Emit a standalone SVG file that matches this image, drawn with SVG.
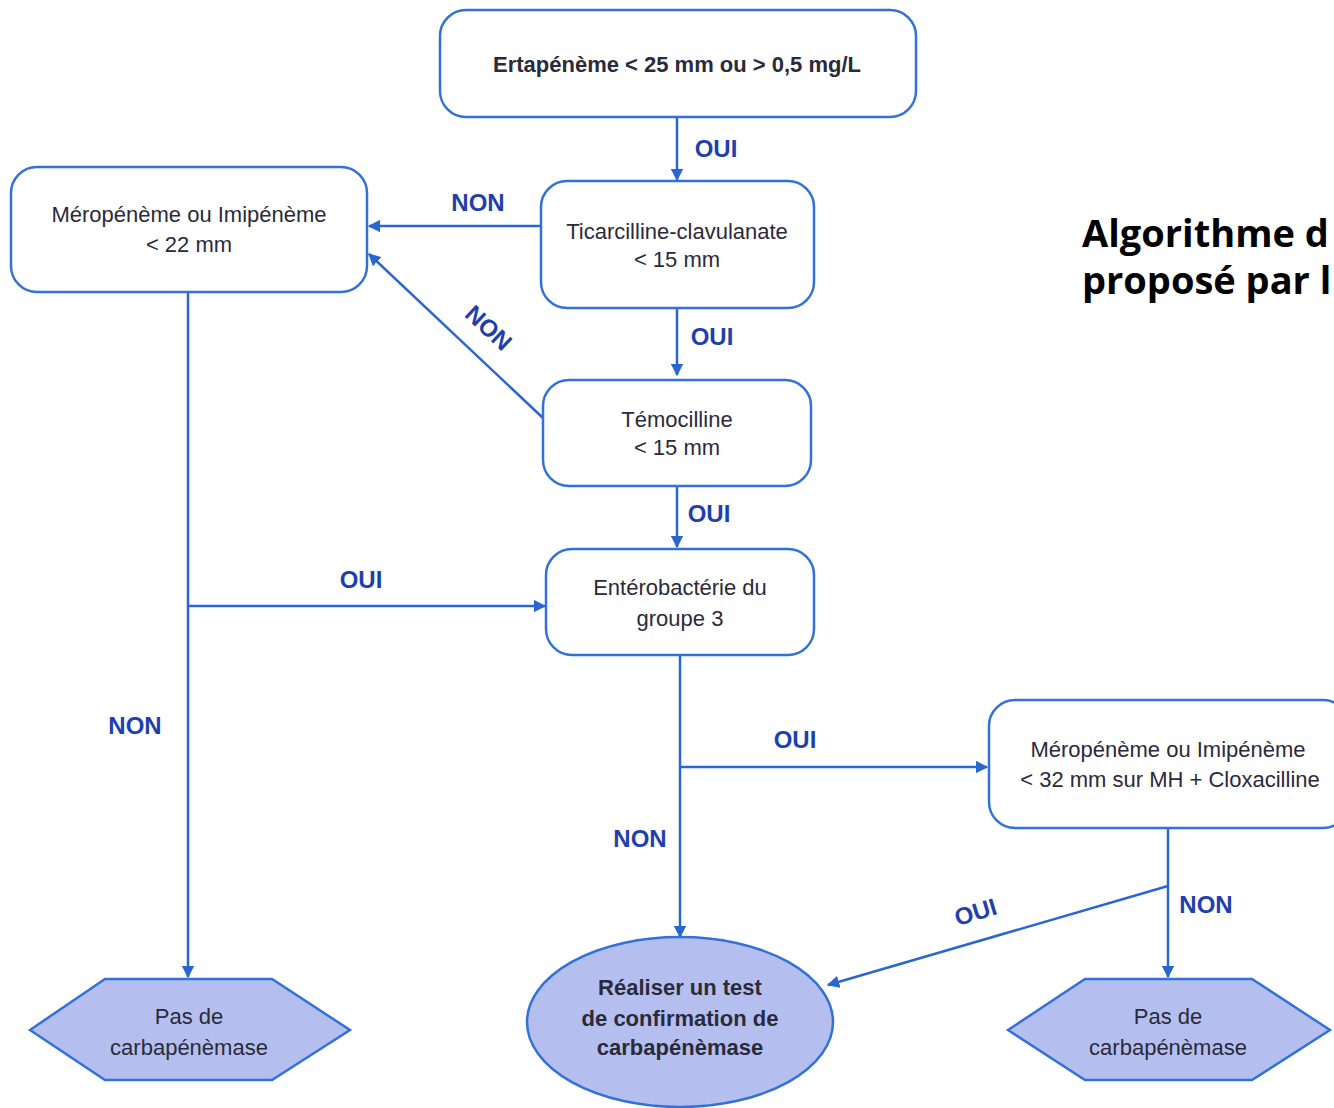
<svg xmlns="http://www.w3.org/2000/svg" width="1334" height="1108" viewBox="0 0 1334 1108">
<defs>
<marker id="ah" viewBox="0 0 10 10" refX="9" refY="5" markerWidth="5" markerHeight="5" orient="auto" markerUnits="strokeWidth">
<path d="M0,0 L10,5 L0,10 z" fill="#2a66d0"/>
</marker>
<style>
.box{fill:#fff;stroke:#3272d8;stroke-width:2.5}
.term{fill:#b4bff0;stroke:#3272d8;stroke-width:2.5}
.t{font-family:"Liberation Sans",Arial,sans-serif;font-size:22px;fill:#2a2a3a;text-anchor:middle}
.b{font-weight:bold}
.lbl{font-family:"Liberation Sans",Arial,sans-serif;font-size:24px;font-weight:bold;fill:#1f3fae;text-anchor:middle}
.c{fill:none;stroke:#2a66d0;stroke-width:2.5}
.title{font-family:"Open Sans","DejaVu Sans",sans-serif;font-size:38px;font-weight:bold;fill:#000}
</style>
</defs>
<rect width="1334" height="1108" fill="#fff"/>

<g id="connectors">
<line class="c" x1="677" y1="117" x2="677" y2="180" marker-end="url(#ah)"/>
<line class="c" x1="541" y1="226" x2="369" y2="226" marker-end="url(#ah)"/>
<line class="c" x1="543" y1="418" x2="369" y2="254" marker-end="url(#ah)"/>
<line class="c" x1="677" y1="308" x2="677" y2="375" marker-end="url(#ah)"/>
<line class="c" x1="677" y1="486" x2="677" y2="547" marker-end="url(#ah)"/>
<line class="c" x1="188" y1="292" x2="188" y2="977" marker-end="url(#ah)"/>
<line class="c" x1="188" y1="606" x2="545" y2="606" marker-end="url(#ah)"/>
<line class="c" x1="680" y1="655" x2="680" y2="937" marker-end="url(#ah)"/>
<line class="c" x1="680" y1="767" x2="987" y2="767" marker-end="url(#ah)"/>
<line class="c" x1="1168" y1="828" x2="1168" y2="977" marker-end="url(#ah)"/>
<line class="c" x1="1168" y1="886" x2="828" y2="985" marker-end="url(#ah)"/>
<text class="lbl" x="716" y="157">OUI</text>
<text class="lbl" x="478" y="211">NON</text>
<text class="lbl" transform="translate(483,334) rotate(43)" x="0" y="0">NON</text>
<text class="lbl" x="712" y="345">OUI</text>
<text class="lbl" x="709" y="522">OUI</text>
<text class="lbl" x="361" y="588">OUI</text>
<text class="lbl" x="135" y="734">NON</text>
<text class="lbl" x="795" y="748">OUI</text>
<text class="lbl" x="640" y="847">NON</text>
<text class="lbl" transform="translate(978,920) rotate(-17)" x="0" y="0">OUI</text>
<text class="lbl" x="1206" y="913">NON</text>
</g>

<g id="n-ertapeneme">
<rect class="box" x="440" y="10" width="476" height="107" rx="26"/>
<text class="t b" x="677" y="72">Ertapénème &lt; 25 mm ou &gt; 0,5 mg/L</text>
</g>

<g id="n-ticarcilline">
<rect class="box" x="541" y="181" width="273" height="127" rx="26"/>
<text class="t" x="677" y="239">Ticarcilline-clavulanate</text>
<text class="t" x="677" y="267">&lt; 15 mm</text>
</g>

<g id="n-meropeneme22">
<rect class="box" x="11" y="167" width="356" height="125" rx="26"/>
<text class="t" x="189" y="222">Méropénème ou Imipénème</text>
<text class="t" x="189" y="252">&lt; 22 mm</text>
</g>

<g id="n-temocilline">
<rect class="box" x="543" y="380" width="268" height="106" rx="26"/>
<text class="t" x="677" y="427">Témocilline</text>
<text class="t" x="677" y="455">&lt; 15 mm</text>
</g>

<g id="n-enterobacterie">
<rect class="box" x="546" y="549" width="268" height="106" rx="26"/>
<text class="t" x="680" y="595">Entérobactérie du</text>
<text class="t" x="680" y="626">groupe 3</text>
</g>

<g id="n-meropeneme32">
<rect class="box" x="989" y="700" width="360" height="128" rx="26"/>
<text class="t" x="1168" y="757">Méropénème ou Imipénème</text>
<text class="t" x="1170" y="787">&lt; 32 mm sur MH + Cloxacilline</text>
</g>

<g id="n-pas-gauche">
<polygon class="term" points="30,1030 105,979 272,979 350,1030 272,1080 105,1080"/>
<text class="t" x="189" y="1024">Pas de</text>
<text class="t" x="189" y="1055">carbapénèmase</text>
</g>

<g id="n-test">
<ellipse class="term" cx="680" cy="1022" rx="153" ry="85"/>
<text class="t b" x="680" y="995">Réaliser un test</text>
<text class="t b" x="680" y="1026">de confirmation de</text>
<text class="t b" x="680" y="1055">carbapénèmase</text>
</g>

<g id="n-pas-droite">
<polygon class="term" points="1008,1030 1085,979 1252,979 1330,1030 1252,1080 1085,1080"/>
<text class="t" x="1168" y="1024">Pas de</text>
<text class="t" x="1168" y="1055">carbapénèmase</text>
</g>

<g id="title">
<text class="title" x="1082" y="247">Algorithme d</text>
<text class="title" x="1082" y="294">proposé par l</text>
</g>
</svg>
